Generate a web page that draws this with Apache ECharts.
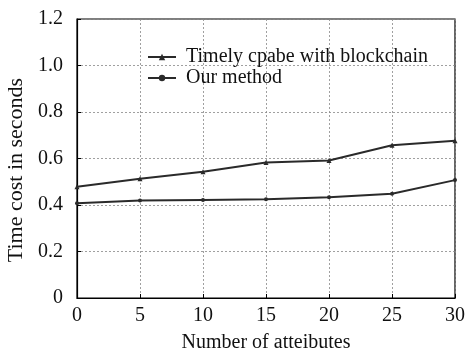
<!DOCTYPE html>
<html><head><meta charset="utf-8">
<script src="https://cdn.jsdelivr.net/npm/echarts@6/dist/echarts.min.js"></script>
<style>html,body{margin:0;padding:0;background:#fff}#c{width:466px;height:361px}</style>
</head><body><div id="c"></div>
<script>
const attributes = [0, 5, 10, 15, 20, 25, 30];
const timelyCpabe = [0.478, 0.513, 0.543, 0.583, 0.591, 0.657, 0.676];
const ourMethod = [0.408, 0.419, 0.422, 0.425, 0.433, 0.448, 0.507];
const seriesNames = ['Timely cpabe with blockchain', 'Our method'];

const font = "'Liberation Serif', 'Times New Roman', serif";
const pair = (xs, ys) => xs.map((x, i) => [x, ys[i]]);
const chart = echarts.init(document.getElementById('c'));
chart.setOption({
  animation: false,
  backgroundColor: '#fff',
  grid: { left: 77, right: 11, top: 19, bottom: 63, show: true, borderColor: '#000', borderWidth: 1.2,
    outerBoundsMode: 'none', containLabel: false },
  legend: {
    orient: 'vertical', left: 147, top: 47, padding: 0, itemGap: 1, itemWidth: 28, itemHeight: 8,
    textStyle: { fontFamily: font, fontSize: 20, color: '#111', padding: [0, 0, 0, 5] },
    data: seriesNames
  },
  xAxis: {
    type: 'value', min: 0, max: 30, interval: 5,
    name: 'Number of atteibutes', nameLocation: 'middle', nameGap: 35,
    nameTextStyle: { fontFamily: font, fontSize: 20, color: '#111' },
    axisLine: { lineStyle: { color: '#000', width: 1.2 } },
    axisTick: { inside: true, length: 4, lineStyle: { color: '#000' } },
    axisLabel: { fontFamily: font, fontSize: 20, color: '#111', margin: 8 },
    splitLine: { show: true, lineStyle: { type: [2, 2], color: '#888', width: 0.8 } }
  },
  yAxis: {
    type: 'value', min: 0, max: 1.2, interval: 0.2,
    name: 'Time cost in seconds', nameLocation: 'middle', nameGap: 48,
    nameTextStyle: { fontFamily: font, fontSize: 22, color: '#111', padding: [0, 23, 0, 0] },
    axisLine: { lineStyle: { color: '#000', width: 1.2 } },
    axisTick: { inside: true, length: 4, lineStyle: { color: '#000' } },
    axisLabel: { fontFamily: font, fontSize: 20, color: '#111', margin: 14,
      formatter: v => v === 0 ? '0' : v.toFixed(1) },
    splitLine: { show: true, lineStyle: { type: [2, 2], color: '#888', width: 0.8 } }
  },
  series: [
    { name: seriesNames[0], type: 'line', data: pair(attributes, timelyCpabe),
      symbol: 'triangle', symbolSize: 5, color: '#2a2a2a', lineStyle: { width: 2, color: '#2a2a2a' } },
    { name: seriesNames[1], type: 'line', data: pair(attributes, ourMethod),
      symbol: 'circle', symbolSize: 4, color: '#2a2a2a', lineStyle: { width: 2, color: '#2a2a2a' } }
  ]
});
</script></body></html>
